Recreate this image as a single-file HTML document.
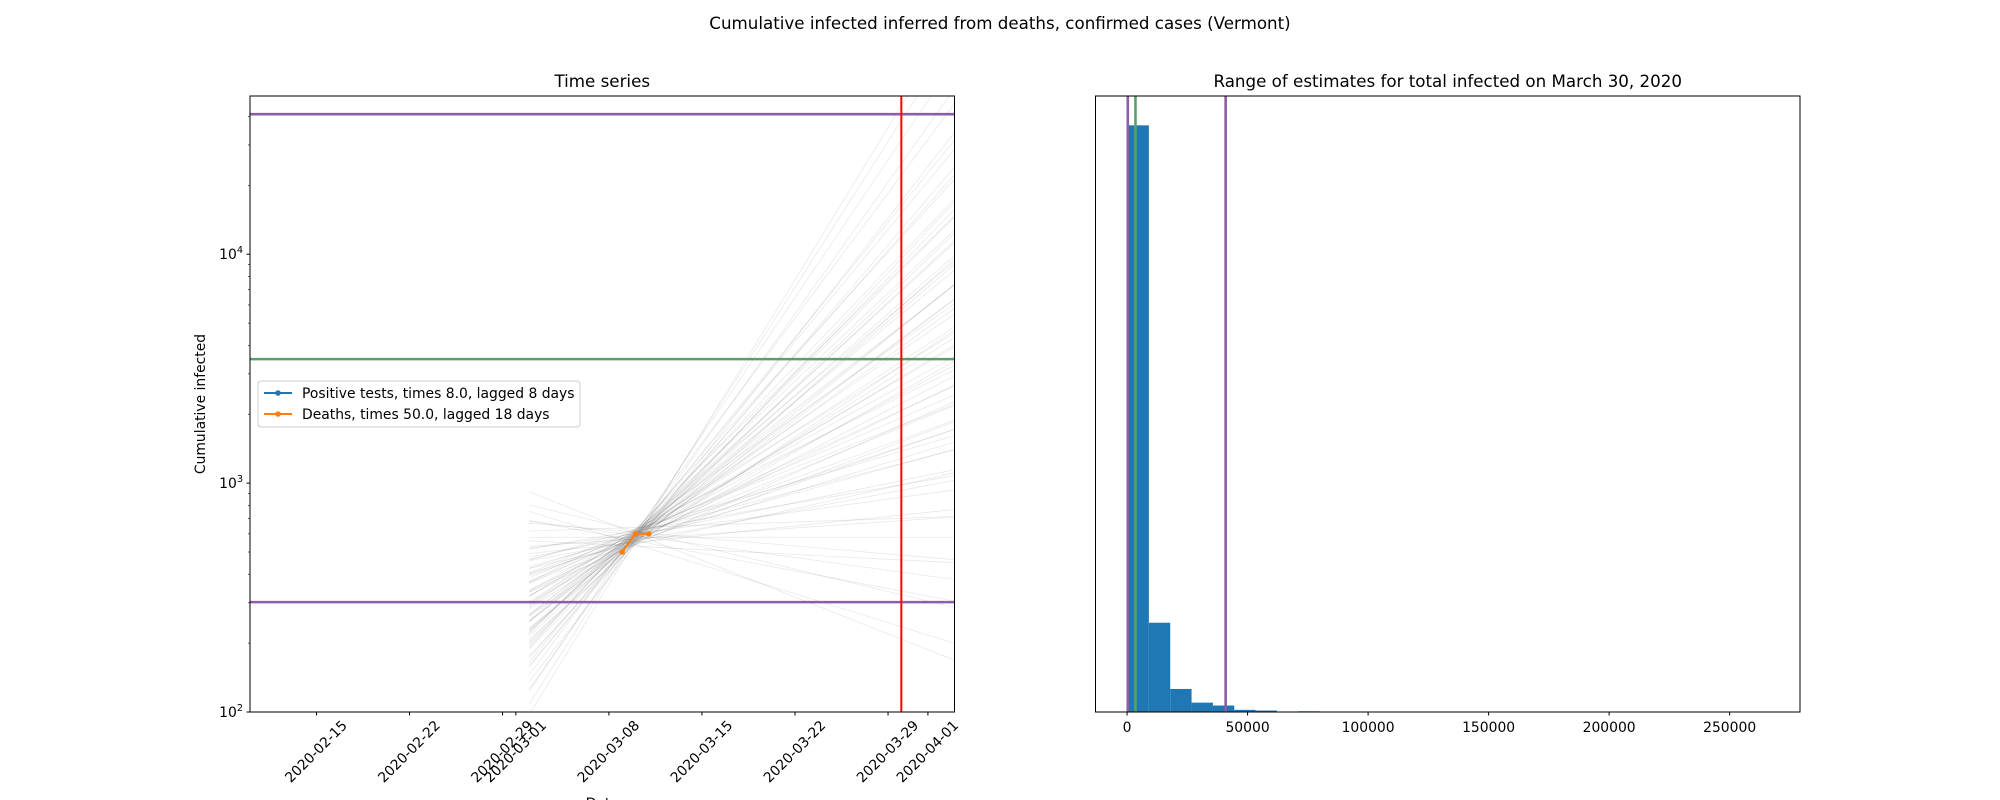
<!DOCTYPE html>
<html><head><meta charset="utf-8"><style>
html,body{margin:0;padding:0;background:#fff;}
svg{display:block;font-family:"DejaVu Sans","Liberation Sans",sans-serif;}
</style></head><body>
<svg id="fig" width="2000" height="800" viewBox="0 0 2000 800" xmlns="http://www.w3.org/2000/svg">
<defs>
<clipPath id="clipL"><rect x="250" y="96" width="704.5" height="616"/></clipPath>
<clipPath id="clipR"><rect x="1095.5" y="96" width="704.5" height="616"/></clipPath>
</defs>
<text x="1000" y="29" text-anchor="middle" font-size="16.7">Cumulative infected inferred from deaths, confirmed cases (Vermont)</text>
<g id="left"></g>
<g id="right"></g>
</svg>
<script>
// ---- Time series data ----
const tickDates = ["2020-02-15","2020-02-22","2020-02-29","2020-03-01","2020-03-08","2020-03-15","2020-03-22","2020-03-29","2020-04-01"];
const tickDays = [5,12,19,20,27,34,41,48,51]; // days since 2020-02-10
const deathDays = [28,29,30];
const deathValues = [500,600,600];
const hLines = [40900,3480,302];
const hLineColors = ["#8c5ea8","#56a26a","#8c5ea8"];
const redLineDay = 49;
const fanStartDay = 21, fanEndDay = 53, fanPivotDay = 29;
const growthRates = [-0.023,-0.018,-0.014,-0.011,-0.008,-0.005,-0.003,0.0,0.002,0.004,0.006,0.008,0.010,0.011,0.012,0.013,0.015,0.016,0.017,0.018,0.019,0.020,0.021,0.022,0.023,0.024,0.025,0.026,0.027,0.028,0.029,0.030,0.031,0.032,0.033,0.034,0.035,0.036,0.037,0.038,0.039,0.040,0.041,0.042,0.043,0.044,0.045,0.046,0.047,0.048,0.049,0.050,0.051,0.052,0.053,0.054,0.055,0.056,0.057,0.058,0.060,0.061,0.062,0.064,0.066,0.068,0.070,0.072,0.075,0.078,0.082,0.086,0.091,0.095];
const pivotValues = [600,540,620,560,590,610,530,580,640,570,550,600,620,560,590,540,610,580,630,560,600,570,590,550,620,580,610,540,600,570,630,560,590,610,550,600,580,620,560,590,540,600,630,570,590,560,610,580,550,600,620,570,590,540,600,580,610,560,630,590,570,600,550,620,580,560,600,590,540,610,570,600,580,560];
// ---- Histogram data ----
const binCounts = [815,124,32,13,9,3,2,0,1,0,0,0,0,0,0,0,0,0,0,0,0,0,0,0,0,0,0,0,0,0];
const binMin = 190, binMax = 265900;
const histLines = [302,3480,40900];
const histLineColors = ["#8c5ea8","#56a26a","#8c5ea8"];
const histTicks = [0,50000,100000,150000,200000,250000];

const NS="http://www.w3.org/2000/svg";
function mk(parent,tag,attrs,text){const e=document.createElementNS(NS,tag);for(const k in attrs)e.setAttribute(k,attrs[k]);if(text!==undefined)e.textContent=text;parent.appendChild(e);return e;}

// Left axes
const L={x0:250,x1:954.5,y0:96,y1:712};
const dayMin=0, dayMax=53;
const logMin=2, logMax=2+616/228.9;
const xL=d=>L.x0+(d-dayMin)/(dayMax-dayMin)*(L.x1-L.x0);
const yL=v=>L.y1-(Math.log10(v)-logMin)/(logMax-logMin)*(L.y1-L.y0);
const gl=document.getElementById('left');
mk(gl,'text',{x:(L.x0+L.x1)/2,y:87,'text-anchor':'middle','font-size':'16.7'},'Time series');
const fan=mk(gl,'g',{'clip-path':'url(#clipL)'});


growthRates.forEach((k,i)=>{
  const pv=pivotValues[i%pivotValues.length];
  const sv=pv*Math.pow(10,k*(fanStartDay-fanPivotDay));
  const ev=pv*Math.pow(10,k*(fanEndDay-fanPivotDay));
  const l=mk(fan,'line',{x1:xL(fanStartDay),y1:yL(sv),x2:xL(fanEndDay),y2:yL(ev),stroke:'#000','stroke-opacity':'0.09','stroke-width':'0.8'});
  
  
});
hLines.forEach((v,i)=>{
  const l=mk(gl,'line',{x1:L.x0,x2:L.x1,y1:yL(v),y2:yL(v),stroke:hLineColors[i],'stroke-width':'2.6'});
  
  
});
{const l=mk(gl,'line',{x1:xL(redLineDay),x2:xL(redLineDay),y1:L.y0,y2:L.y1,stroke:'#ff0000','stroke-width':'2'});
}
{const pts=deathDays.map((d,i)=>xL(d)+','+yL(deathValues[i])).join(' ');
const p=mk(gl,'polyline',{points:pts,fill:'none',stroke:'#ff7f0e','stroke-width':'2'});

deathDays.forEach((d,i)=>{const c=mk(gl,'circle',{cx:xL(d),cy:yL(deathValues[i]),r:'2.8',fill:'#ff7f0e'});
});}
mk(gl,'rect',{x:L.x0,y:L.y0,width:L.x1-L.x0,height:L.y1-L.y0,fill:'none',stroke:'#000','stroke-width':'1'});
// y ticks
for(let e=2;e<=4;e++){
  const y=yL(Math.pow(10,e));
  mk(gl,'line',{x1:L.x0-3.5,x2:L.x0,y1:y,y2:y,stroke:'#000'});
  const t=mk(gl,'text',{x:L.x0-7,y:y+5,'text-anchor':'end','font-size':'13.9'});
  
  t.appendChild(document.createTextNode('10'));
  mk(t,'tspan',{dy:'-6','font-size':'9.7'},String(e));
}
for(let e=2;e<=4;e++)for(let m=2;m<=9;m++){const v=m*Math.pow(10,e);if(Math.log10(v)>logMax)continue;const y=yL(v);mk(gl,'line',{x1:L.x0-2,x2:L.x0,y1:y,y2:y,stroke:'#000','stroke-width':'0.6'});}
{const t=mk(gl,'text',{transform:'translate(205,404) rotate(-90)','text-anchor':'middle','font-size':'13.9'},'Cumulative infected');}
tickDays.forEach((d,i)=>{
  const x=xL(d);
  mk(gl,'line',{x1:x,x2:x,y1:L.y1,y2:L.y1+3.5,stroke:'#000'});
  const t=mk(gl,'text',{transform:`translate(${x},${L.y1+40}) rotate(-45)`,'text-anchor':'middle','dominant-baseline':'central','font-size':'13.9'},tickDates[i]);
  
});
{const t=mk(gl,'text',{x:(L.x0+L.x1)/2,y:808,'text-anchor':'middle','font-size':'13.9'},'Date');}
// legend
{const lg=mk(gl,'g',{});
mk(lg,'rect',{x:258,y:381,width:322,height:46,rx:3,fill:'#fff','fill-opacity':'0.8',stroke:'#ccc'});
const ent=[['#1f77b4','Positive tests, times 8.0, lagged 8 days',393],['#ff7f0e','Deaths, times 50.0, lagged 18 days',414]];
ent.forEach(e=>{const g=mk(lg,'g',{});
mk(g,'line',{x1:264,x2:292,y1:e[2],y2:e[2],stroke:e[0],'stroke-width':'2'});
mk(g,'circle',{cx:278,cy:e[2],r:'2.8',fill:e[0]});
mk(g,'text',{x:302,y:e[2]+5,'font-size':'13.9'},e[1]);});}

// Right axes (histogram)
const R={x0:1095.5,x1:1800,y0:96,y1:712};
const span=binMax-binMin, xmn=binMin-0.05*span, xmx=binMax+0.05*span;
const xR=v=>R.x0+(v-xmn)/(xmx-xmn)*(R.x1-R.x0);
const ymaxR=Math.max(...binCounts)*1.05;
const yR=c=>R.y1-c/ymaxR*(R.y1-R.y0);
const gr=document.getElementById('right');
mk(gr,'text',{x:(R.x0+R.x1)/2,y:87,'text-anchor':'middle','font-size':'16.7'},'Range of estimates for total infected on March 30, 2020');
const bw=span/binCounts.length;
binCounts.forEach((c,i)=>{if(c<=0)return;
  const a=xR(binMin+i*bw), b=xR(binMin+(i+1)*bw);
  const r=mk(gr,'rect',{x:a,y:yR(c),width:b-a,height:R.y1-yR(c),fill:'#1f77b4'});
  });
histLines.forEach((v,i)=>{const l=mk(gr,'line',{x1:xR(v),x2:xR(v),y1:R.y0,y2:R.y1,stroke:histLineColors[i],'stroke-width':'2.6'});
  });
mk(gr,'rect',{x:R.x0,y:R.y0,width:R.x1-R.x0,height:R.y1-R.y0,fill:'none',stroke:'#000','stroke-width':'1'});
histTicks.forEach(v=>{const x=xR(v);mk(gr,'line',{x1:x,x2:x,y1:R.y1,y2:R.y1+3.5,stroke:'#000'});
  const t=mk(gr,'text',{x:x,y:R.y1+20,'text-anchor':'middle','font-size':'13.9'},String(v));
  });
</script>
</body></html>
